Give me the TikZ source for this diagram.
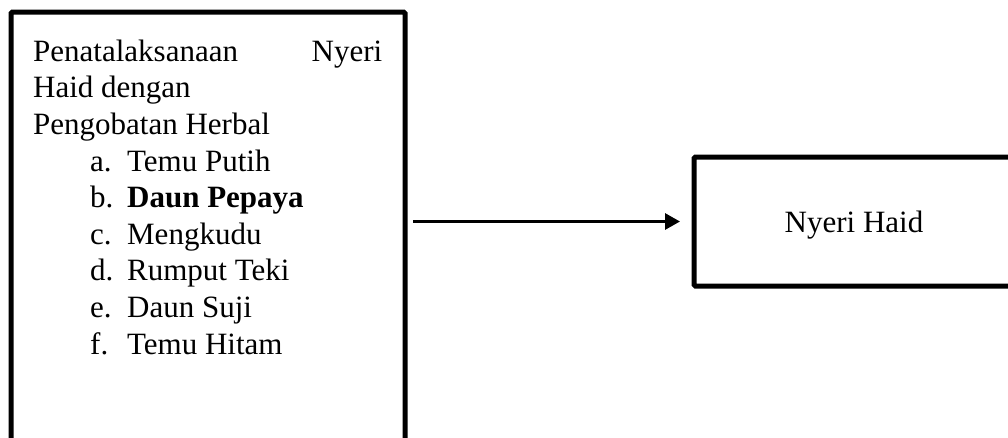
\documentclass[tikz,border=0pt]{standalone}
\usepackage{fontspec}
\setmainfont{Liberation Serif}
\usetikzlibrary{arrows.meta}
\begin{document}
\begin{tikzpicture}[x=1pt,y=-1pt,
  boxstyle/.style={draw, line width=5pt, rounded corners=1.5pt, inner sep=0pt, outer sep=0pt},
  txt/.style={font=\fontsize{31}{36.6}\selectfont},
  arrowline/.style={line width=3pt, -{Triangle[length=15pt,width=16pt]}}]
\useasboundingbox (0,0) rectangle (1008,437);
\clip (0,0) rectangle (1008,437);
\node[boxstyle, anchor=north west, minimum width=394pt, minimum height=460pt] (herbal) at (11,12) {};
\node[txt, anchor=north west, inner sep=0pt, align=left] (list) at (33,39.5)
  {\makebox[349pt][s]{Penatalaksanaan\hfill Nyeri}\\
   Haid dengan\\
   Pengobatan Herbal\\
   \hspace*{57pt}\makebox[37pt][l]{a.}Temu Putih\\
   \hspace*{57pt}\makebox[37pt][l]{b.}\textbf{Daun Pepaya}\\
   \hspace*{57pt}\makebox[37pt][l]{c.}Mengkudu\\
   \hspace*{57pt}\makebox[37pt][l]{d.}Rumput Teki\\
   \hspace*{57pt}\makebox[37pt][l]{e.}Daun Suji\\
   \hspace*{57pt}\makebox[37pt][l]{f.}Temu Hitam};
\node[boxstyle, txt, minimum width=320pt, minimum height=129pt, text depth=0pt] (nyeri) at (854,221.5) {Nyeri Haid};
\draw[arrowline, shorten <=8pt, shorten >=14pt] (herbal.east |- nyeri.west) -- (nyeri.west);
\end{tikzpicture}
\end{document}
